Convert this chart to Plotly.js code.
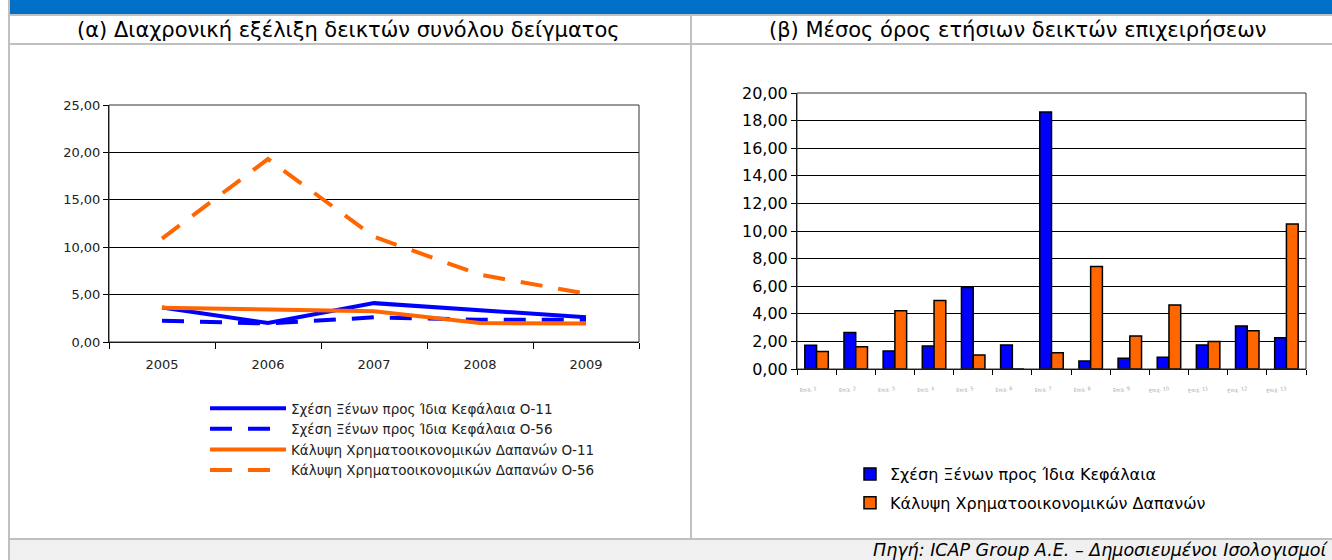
<!DOCTYPE html>
<html>
<head>
<meta charset="utf-8">
<script src="https://cdn.plot.ly/plotly-3.0.1.min.js"></script>
<style>
html,body{margin:0;padding:0;background:#fff;}
#chart{width:1332px;height:560px;}
</style>
</head>
<body>
<div id="chart"></div>
<script>
// ---- Data (a) ----
const years = ['2005', '2006', '2007', '2008', '2009'];
const seriesNamesA = [
  'Σχέση Ξένων προς Ίδια Κεφάλαια Ο-11',
  'Σχέση Ξένων προς Ίδια Κεφάλαια Ο-56',
  'Κάλυψη Χρηματοοικονομικών Δαπανών Ο-11',
  'Κάλυψη Χρηματοοικονομικών Δαπανών Ο-56'
];
const debtEquityO11 = [3.65, 2.0, 4.1, 3.35, 2.6];
const debtEquityO56 = [2.25, 1.95, 2.6, 2.35, 2.35];
const coverageO11 = [3.6, 3.4, 3.25, 2.0, 1.95];
const coverageO56 = [10.9, 19.3, 11.1, 7.1, 5.1];

// ---- Data (b) ----
const companies = ['Επιχ. 1', 'Επιχ. 2', 'Επιχ. 3', 'Επιχ. 4', 'Επιχ. 5', 'Επιχ. 6', 'Επιχ. 7',
                   'Επιχ. 8', 'Επιχ. 9', 'Επιχ. 10', 'Επιχ. 11', 'Επιχ. 12', 'Επιχ. 13'];
const seriesNamesB = ['Σχέση Ξένων προς Ίδια Κεφάλαια', 'Κάλυψη Χρηματοοικονομικών Δαπανών'];
const debtEquityAvg = [1.72, 2.65, 1.31, 1.67, 5.9, 1.74, 18.62, 0.58, 0.77, 0.85, 1.74, 3.12, 2.27];
const coverageAvg = [1.26, 1.62, 4.23, 4.96, 1.02, 0, 1.18, 7.42, 2.39, 4.64, 2.0, 2.78, 10.5];

const titleA = '(α) Διαχρονική εξέλιξη δεικτών συνόλου δείγματος';
const titleB = '(β) Μέσος όρος ετήσιων δεικτών επιχειρήσεων';
const sourceText = 'Πηγή: ICAP Group A.E. – Δημοσιευμένοι Ισολογισμοί';

const BLUE = '#0000FF', ORANGE = '#FF6600';
const W = 1332, H = 560;
const px = v => v / W, py = v => 1 - v / H;
const mainFont = 'DejaVu Sans, Verdana, sans-serif';
const tickFont = 'DejaVu Sans, Verdana, sans-serif';

const dashPat = '22px,16px';
const traces = [
  {x: years, y: debtEquityO11, name: seriesNamesA[0], type: 'scatter', mode: 'lines', legendgroup: 'a1',
   line: {color: BLUE, width: 4}, xaxis: 'x', yaxis: 'y', legend: 'legend'},
  {x: years, y: debtEquityO56, name: seriesNamesA[1], type: 'scatter', mode: 'lines', legendgroup: 'a2',
   line: {color: BLUE, width: 4, dash: dashPat}, xaxis: 'x', yaxis: 'y', legend: 'legend'},
  {x: years, y: coverageO11, name: seriesNamesA[2], type: 'scatter', mode: 'lines', legendgroup: 'a3',
   line: {color: ORANGE, width: 4}, xaxis: 'x', yaxis: 'y', legend: 'legend'},
  {x: years, y: coverageO56, name: seriesNamesA[3], type: 'scatter', mode: 'lines', legendgroup: 'a4',
   line: {color: ORANGE, width: 4, dash: dashPat}, xaxis: 'x', yaxis: 'y', legend: 'legend'},
  {x: companies, y: debtEquityAvg, name: seriesNamesB[0], type: 'bar', legendgroup: 'b1',
   marker: {color: BLUE, line: {color: '#000', width: 1.5}}, xaxis: 'x2', yaxis: 'y2', legend: 'legend2'},
  {x: companies, y: coverageAvg, name: seriesNamesB[1], type: 'bar', legendgroup: 'b2',
   marker: {color: ORANGE, line: {color: '#000', width: 1.5}}, xaxis: 'x2', yaxis: 'y2', legend: 'legend2'}
];

const grey = '#C0C0C0';
const shapes = [
  {type: 'rect', xref: 'paper', yref: 'paper', x0: px(9), x1: 1, y0: py(14), y1: 1, fillcolor: '#0070C8', line: {width: 0}, layer: 'below'},
  {type: 'rect', xref: 'paper', yref: 'paper', x0: px(9), x1: 1, y0: 0, y1: py(539), fillcolor: '#F0F0F0', line: {width: 0}, layer: 'below'},
  {type: 'line', xref: 'paper', yref: 'paper', x0: px(9), x1: px(9), y0: 0, y1: 1, line: {color: grey, width: 2}},
  {type: 'line', xref: 'paper', yref: 'paper', x0: px(9), x1: 1, y0: py(15), y1: py(15), line: {color: grey, width: 2}},
  {type: 'line', xref: 'paper', yref: 'paper', x0: px(9), x1: 1, y0: py(44), y1: py(44), line: {color: grey, width: 2}},
  {type: 'line', xref: 'paper', yref: 'paper', x0: px(9), x1: 1, y0: py(539), y1: py(539), line: {color: grey, width: 2}},
  {type: 'line', xref: 'paper', yref: 'paper', x0: px(691), x1: px(691), y0: py(539), y1: py(15), line: {color: grey, width: 2}},
  {type: 'rect', xref: 'x domain', yref: 'y domain', x0: 0, x1: 1, y0: 0, y1: 1, line: {color: '#333', width: 1}},
  {type: 'rect', xref: 'x2 domain', yref: 'y2 domain', x0: 0, x1: 1, y0: 0, y1: 1, line: {color: '#333', width: 1}}
];

const annotations = [
  {text: titleA, xref: 'paper', yref: 'paper', x: px(348), y: py(30), xanchor: 'center', yanchor: 'middle',
   showarrow: false, font: {family: mainFont, size: 21, color: '#000'}},
  {text: titleB, xref: 'paper', yref: 'paper', x: px(1017), y: py(30), xanchor: 'center', yanchor: 'middle',
   showarrow: false, font: {family: mainFont, size: 21, color: '#000'}},
  {text: '<i>' + sourceText + '</i>', xref: 'paper', yref: 'paper', x: px(1329), y: py(549.5), xanchor: 'right', yanchor: 'middle',
   showarrow: false, borderpad: 0, font: {family: mainFont, size: 17.5, color: '#000'}}
];

const layout = {
  width: W, height: H,
  margin: {l: 0, r: 0, t: 0, b: 0},
  paper_bgcolor: '#fff', plot_bgcolor: '#fff',
  separators: ',.',
  barmode: 'group', bargap: 0.4, bargroupgap: 0,
  xaxis: {domain: [px(109), px(639)], anchor: 'y', type: 'category', range: [-0.5, 4.5],
    showgrid: false, showline: true, linecolor: '#000', linewidth: 1,
    ticks: 'outside', ticklen: 6, tickcolor: '#000', tickson: 'boundaries', ticklabelstandoff: 10,
    tickfont: {family: tickFont, size: 13, color: '#222'}, fixedrange: true},
  yaxis: {domain: [1 - 342 / H, 1 - 105 / H], anchor: 'x', range: [0, 25], dtick: 5, tickformat: '.2f',
    showgrid: true, gridcolor: '#000', gridwidth: 1, showline: true, linecolor: '#000', zeroline: false,
    ticks: 'outside', ticklen: 5, tickcolor: '#000',
    tickfont: {family: tickFont, size: 13, color: '#222'}, fixedrange: true},
  xaxis2: {domain: [px(797), px(1306)], anchor: 'y2', type: 'category',
    showgrid: false, showline: true, linecolor: '#000', linewidth: 1,
    ticks: 'outside', ticklen: 5, tickcolor: '#000', tickson: 'boundaries', ticklabelstandoff: 14,
    tickangle: -8, tickfont: {family: tickFont, size: 5, color: '#aaa'}, fixedrange: true},
  yaxis2: {domain: [1 - 369 / H, 1 - 93 / H], anchor: 'x2', range: [0, 20], dtick: 2, tickformat: '.2f',
    showgrid: true, gridcolor: '#000', gridwidth: 1, showline: true, linecolor: '#000', zeroline: false,
    ticks: 'outside', ticklen: 5, tickcolor: '#000',
    tickfont: {family: tickFont, size: 16, color: '#000'}, fixedrange: true},
  legend: {x: px(205), y: py(393), xanchor: 'left', yanchor: 'top', bgcolor: 'rgba(0,0,0,0)',
    font: {family: mainFont, size: 13.5, color: '#222'}, tracegroupgap: 0, itemwidth: 76},
  legend2: {x: px(850), y: py(457), xanchor: 'left', yanchor: 'top', bgcolor: 'rgba(0,0,0,0)',
    font: {family: mainFont, size: 16, color: '#000'}, tracegroupgap: 5, itemwidth: 30},
  shapes: shapes,
  annotations: annotations,
  showlegend: true
};

Plotly.newPlot('chart', traces, layout, {displayModeBar: false, staticPlot: true});
</script>
</body>
</html>
